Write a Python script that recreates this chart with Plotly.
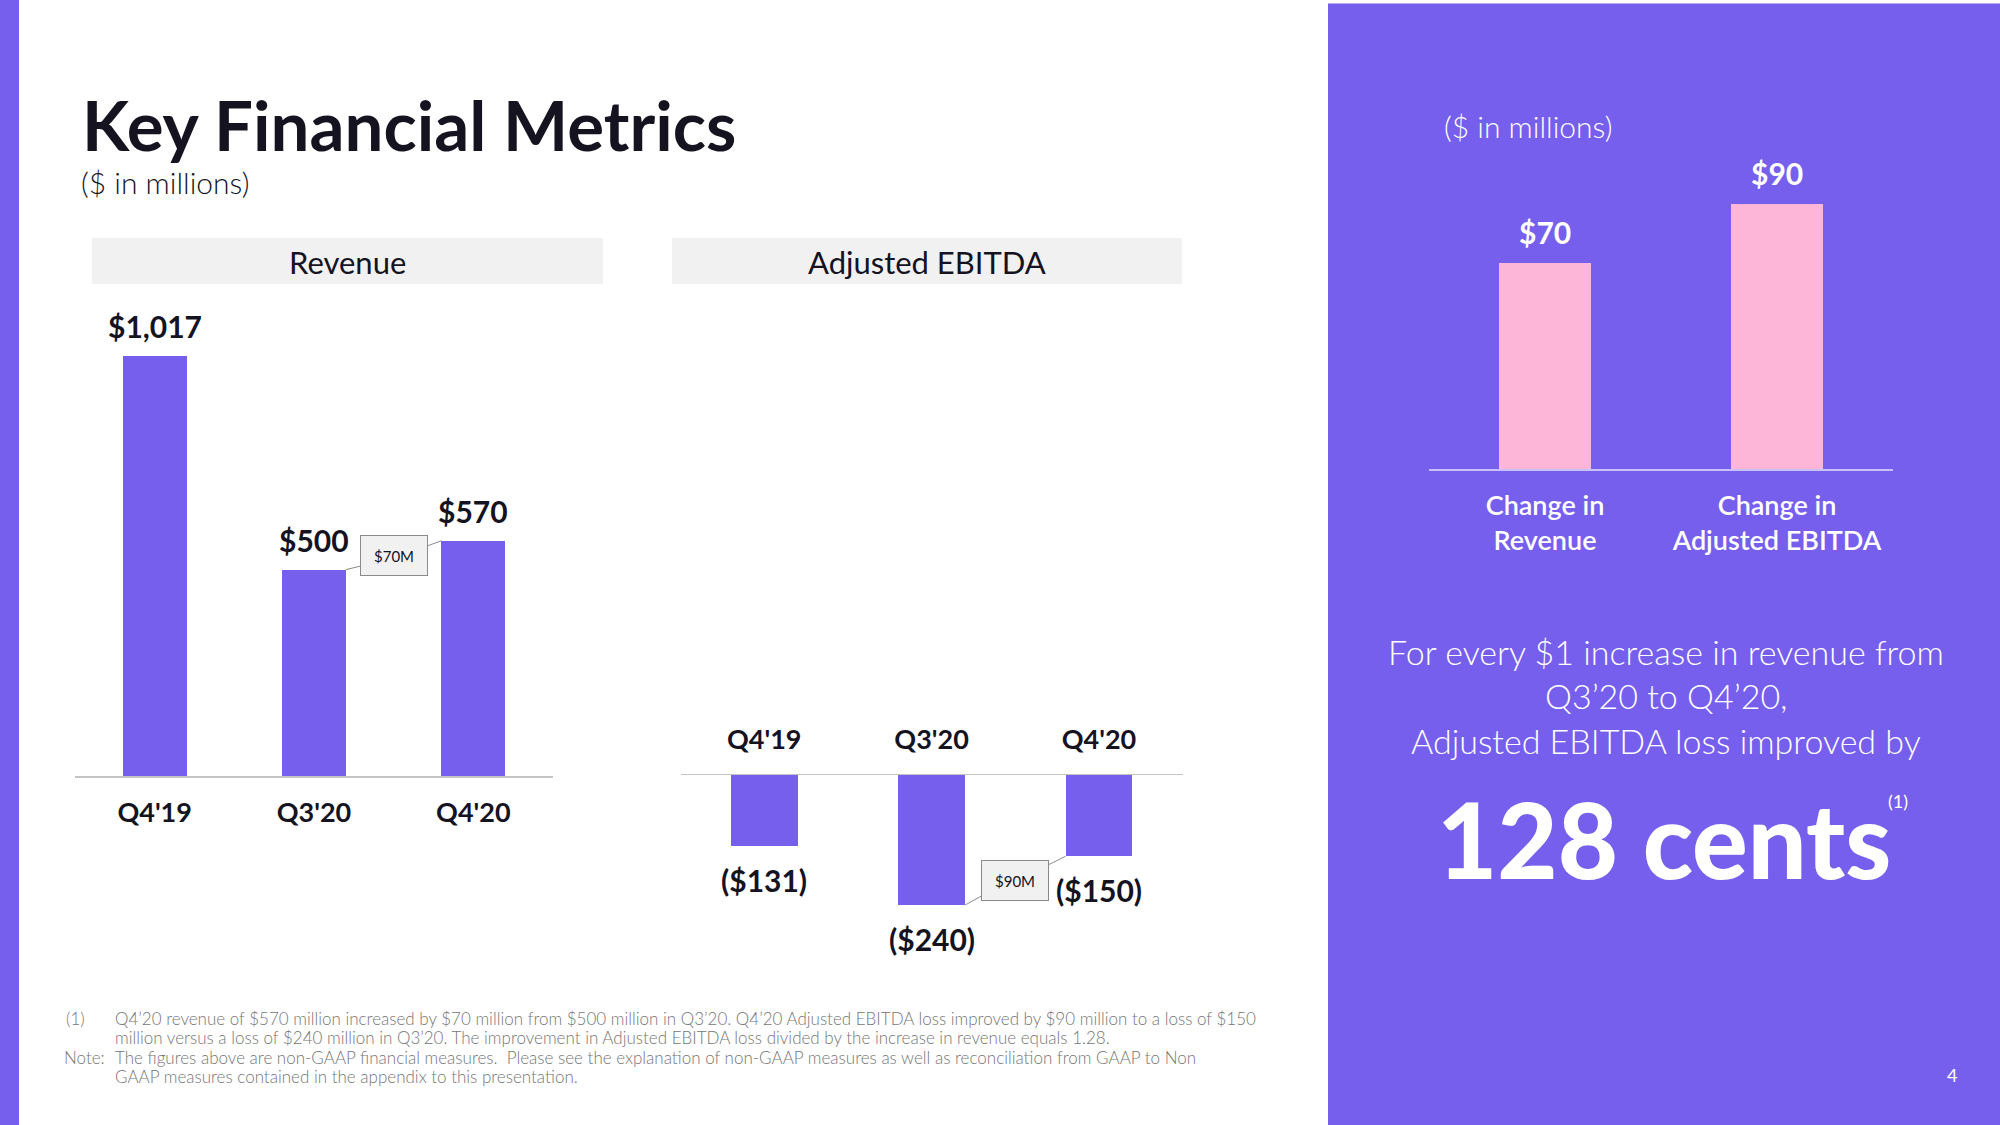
import plotly.graph_objects as go

# ---------------- data ----------------
quarters = ["Q4'19", "Q3'20", "Q4'20"]
revenue = [1017, 500, 570]
adj_ebitda = [-131, -240, -150]
change_categories = ["Change in<br>Revenue", "Change in<br>Adjusted EBITDA"]
change_values = [70, 90]
revenue_change_label = "$70M"
ebitda_change_label = "$90M"

# ---------------- styles ----------------
W, H = 2000, 1125
PURPLE = "#775FEE"
PINK = "#FDB5D8"
DARK = "#14131F"
GRAY_BOX = "#F1F1F1"
FONT = "Lato"


def px(x):
    return x / W


def py(y):
    return 1 - y / H


fig = go.Figure()

xs3 = list(range(len(quarters)))
fig.add_trace(go.Bar(x=xs3, y=revenue, xaxis="x", yaxis="y", width=0.4,
                     marker=dict(color=PURPLE, line=dict(width=0)), hoverinfo="skip"))
fig.add_trace(go.Bar(x=xs3, y=adj_ebitda, xaxis="x2", yaxis="y2", width=0.4,
                     marker=dict(color=PURPLE, line=dict(width=0)), hoverinfo="skip"))
xs2 = list(range(len(change_categories)))
fig.add_trace(go.Bar(x=xs2, y=change_values, xaxis="x3", yaxis="y3", width=0.4,
                     marker=dict(color=PINK, line=dict(width=0)), hoverinfo="skip"))

tickfont_dark = dict(family=FONT, size=27, color=DARK, weight=700)

shapes = [
    # left stripe
    dict(type="rect", xref="paper", yref="paper", x0=0, x1=px(19), y0=0, y1=1,
         fillcolor=PURPLE, line=dict(width=0), layer="below"),
    # right panel
    dict(type="rect", xref="paper", yref="paper", x0=px(1328), x1=1, y0=0, y1=py(3.5),
         fillcolor=PURPLE, line=dict(width=0), layer="below"),
    # header boxes
    dict(type="rect", xref="paper", yref="paper", x0=px(92), x1=px(603), y0=py(284), y1=py(238),
         fillcolor=GRAY_BOX, line=dict(width=0), layer="below"),
    dict(type="rect", xref="paper", yref="paper", x0=px(672), x1=px(1182), y0=py(284), y1=py(238),
         fillcolor=GRAY_BOX, line=dict(width=0), layer="below"),
]

# connector lines between bars and change boxes
conn = dict(color="#8A8A8A", width=1)
r1, r2 = revenue[1], revenue[2]
shapes += [
    dict(type="line", xref="x", yref="y", x0=1.2, y0=r1, x1=1.29, y1=r1 + (r2 - r1) * 0.12, line=conn),
    dict(type="line", xref="x", yref="y", x0=1.71, y0=r1 + (r2 - r1) * 0.82, x1=1.8, y1=r2, line=conn),
]
e1, e2 = adj_ebitda[1], adj_ebitda[2]
shapes += [
    dict(type="line", xref="x2", yref="y2", x0=1.2, y0=e1, x1=1.3, y1=e1 + (e2 - e1) * 0.19, line=conn),
    dict(type="line", xref="x2", yref="y2", x0=1.7, y0=e1 + (e2 - e1) * 0.83, x1=1.8, y1=e2, line=conn),
]

ann = []
# titles
ann.append(dict(text="Key Financial Metrics", xref="paper", yref="paper", x=px(80), y=py(124),
                xanchor="left", yanchor="middle", showarrow=False,
                font=dict(family=FONT, size=69, color=DARK, weight=700)))
ann.append(dict(text="($ in millions)", xref="paper", yref="paper", x=px(79), y=py(182),
                xanchor="left", yanchor="middle", showarrow=False,
                font=dict(family=FONT, size=30, color=DARK, weight=300)))
ann.append(dict(text="Revenue", xref="paper", yref="paper", x=px(347.5), y=py(262),
                xanchor="center", yanchor="middle", showarrow=False,
                font=dict(family=FONT, size=31, color=DARK, weight=400)))
ann.append(dict(text="Adjusted EBITDA", xref="paper", yref="paper", x=px(927), y=py(262),
                xanchor="center", yanchor="middle", showarrow=False,
                font=dict(family=FONT, size=31, color=DARK, weight=400)))

valfont = dict(family=FONT, size=30, color=DARK, weight=700)
for i, v in enumerate(revenue):
    ann.append(dict(text=f"${v:,}", xref="x", yref="y", x=i, y=v, xanchor="center",
                    yanchor="middle", yshift=30, showarrow=False, font=valfont))
for i, v in enumerate(adj_ebitda):
    ann.append(dict(text=f"(${abs(v):,})", xref="x2", yref="y2", x=i, y=v, xanchor="center",
                    yanchor="middle", yshift=-34, showarrow=False, font=valfont))

boxfont = dict(family=FONT, size=15, color=DARK)
ann.append(dict(text=revenue_change_label, xref="x", yref="y", x=1.5, y=(r1 + r2) / 2,
                showarrow=False, bgcolor=GRAY_BOX, bordercolor="#8A8A8A", borderwidth=1,
                width=64, height=37, font=boxfont))
ann.append(dict(text=ebitda_change_label, xref="x2", yref="y2", x=1.5, y=(e1 + e2) / 2,
                showarrow=False, bgcolor=GRAY_BOX, bordercolor="#8A8A8A", borderwidth=1,
                width=64, height=37, font=boxfont))

# right panel
ann.append(dict(text="($ in millions)", xref="paper", yref="paper", x=px(1442), y=py(126),
                xanchor="left", yanchor="middle", showarrow=False,
                font=dict(family=FONT, size=30, color="white", weight=300)))
for i, v in enumerate(change_values):
    ann.append(dict(text=f"${v}", xref="x3", yref="y3", x=i, y=v, xanchor="center",
                    yanchor="middle", yshift=31, showarrow=False,
                    font=dict(family=FONT, size=30, color="white", weight=700)))

msg_lines = ["For every $1 increase in revenue from", "Q3’20 to Q4’20,",
             "Adjusted EBITDA loss improved by"]
for line, yy in zip(msg_lines, [651, 695, 740]):
    ann.append(dict(text=line, xref="paper", yref="paper", x=px(1666), y=py(yy),
                    xanchor="center", yanchor="middle", showarrow=False,
                    font=dict(family=FONT, size=34, color="white", weight=300)))
ann.append(dict(text="128 cents", xref="paper", yref="paper", x=px(1664), y=py(838),
                xanchor="center", yanchor="middle", showarrow=False,
                font=dict(family=FONT, size=104, color="white", weight=900)))
ann.append(dict(text="(1)", xref="paper", yref="paper", x=px(1898), y=py(801),
                xanchor="center", yanchor="middle", showarrow=False,
                font=dict(family=FONT, size=18, color="white", weight=400)))
ann.append(dict(text="4", xref="paper", yref="paper", x=px(1952), y=py(1075),
                xanchor="center", yanchor="middle", showarrow=False,
                font=dict(family=FONT, size=18, color="white", weight=400)))

# footnotes
foot = dict(family=FONT, size=17, color="#767676", weight=300)
foot_lines = [
    "Q4’20 revenue of $570 million increased by $70 million from $500 million in Q3’20. Q4’20 Adjusted EBITDA loss improved by $90 million to a loss of $150",
    "million versus a loss of $240 million in Q3’20. The improvement in Adjusted EBITDA loss divided by the increase in revenue equals 1.28.",
    "The figures above are non-GAAP financial measures.  Please see the explanation of non-GAAP measures as well as reconciliation from GAAP to Non",
    "GAAP measures contained in the appendix to this presentation.",
]
for line, yy in zip(foot_lines, [1018, 1037.5, 1057, 1076.5]):
    ann.append(dict(text=line, xref="paper", yref="paper", x=px(113), y=py(yy),
                    xanchor="left", yanchor="middle", showarrow=False, font=foot))
ann.append(dict(text="(1)", xref="paper", yref="paper", x=px(64), y=py(1018),
                xanchor="left", yanchor="middle", showarrow=False, font=foot))
ann.append(dict(text="Note:", xref="paper", yref="paper", x=px(62), y=py(1057),
                xanchor="left", yanchor="middle", showarrow=False, font=foot))

fig.update_layout(
    width=W, height=H, margin=dict(l=0, r=0, t=0, b=0),
    paper_bgcolor="white", plot_bgcolor="rgba(0,0,0,0)",
    showlegend=False, bargap=0,
    shapes=shapes, annotations=ann,
    xaxis=dict(domain=[px(75), px(553)], range=[-0.5, 2.5], anchor="y",
               tickmode="array", tickvals=xs3, ticktext=quarters, tickfont=tickfont_dark,
               showline=True, linecolor="#C4C4C4", linewidth=1.5, showgrid=False,
               zeroline=False, ticks="", ticklabelstandoff=12, fixedrange=True),
    yaxis=dict(domain=[py(776), py(322)], range=[0, 1100], visible=False, anchor="x",
               fixedrange=True),
    xaxis2=dict(domain=[px(680.5), px(1182.7)], range=[-0.5, 2.5], anchor="y2", side="top",
                tickmode="array", tickvals=xs3, ticktext=quarters, tickfont=tickfont_dark,
                showline=True, linecolor="#C4C4C4", linewidth=1.5, showgrid=False,
                zeroline=False, ticks="", ticklabelstandoff=14, fixedrange=True),
    yaxis2=dict(domain=[py(775 + 162.6), py(775)], range=[-300, 0], visible=False, anchor="x2",
                fixedrange=True),
    xaxis3=dict(domain=[px(1429), px(1893)], range=[-0.5, 1.5], anchor="y3",
                tickmode="array", tickvals=xs2, ticktext=change_categories,
                tickfont=dict(family=FONT, size=27, color="white", weight=600),
                showline=True, linecolor="#C9C0F8", linewidth=1.5, showgrid=False,
                zeroline=False, ticks="", ticklabelstandoff=12, fixedrange=True),
    yaxis3=dict(domain=[py(469), py(469 - 294.5)], range=[0, 100], visible=False, anchor="x3",
                fixedrange=True),
)

fig.write_html(
    "out.html",
    config={"displayModeBar": False, "staticPlot": True},
    post_script="document.body.style.margin='0';document.body.style.overflow='hidden';",
)
